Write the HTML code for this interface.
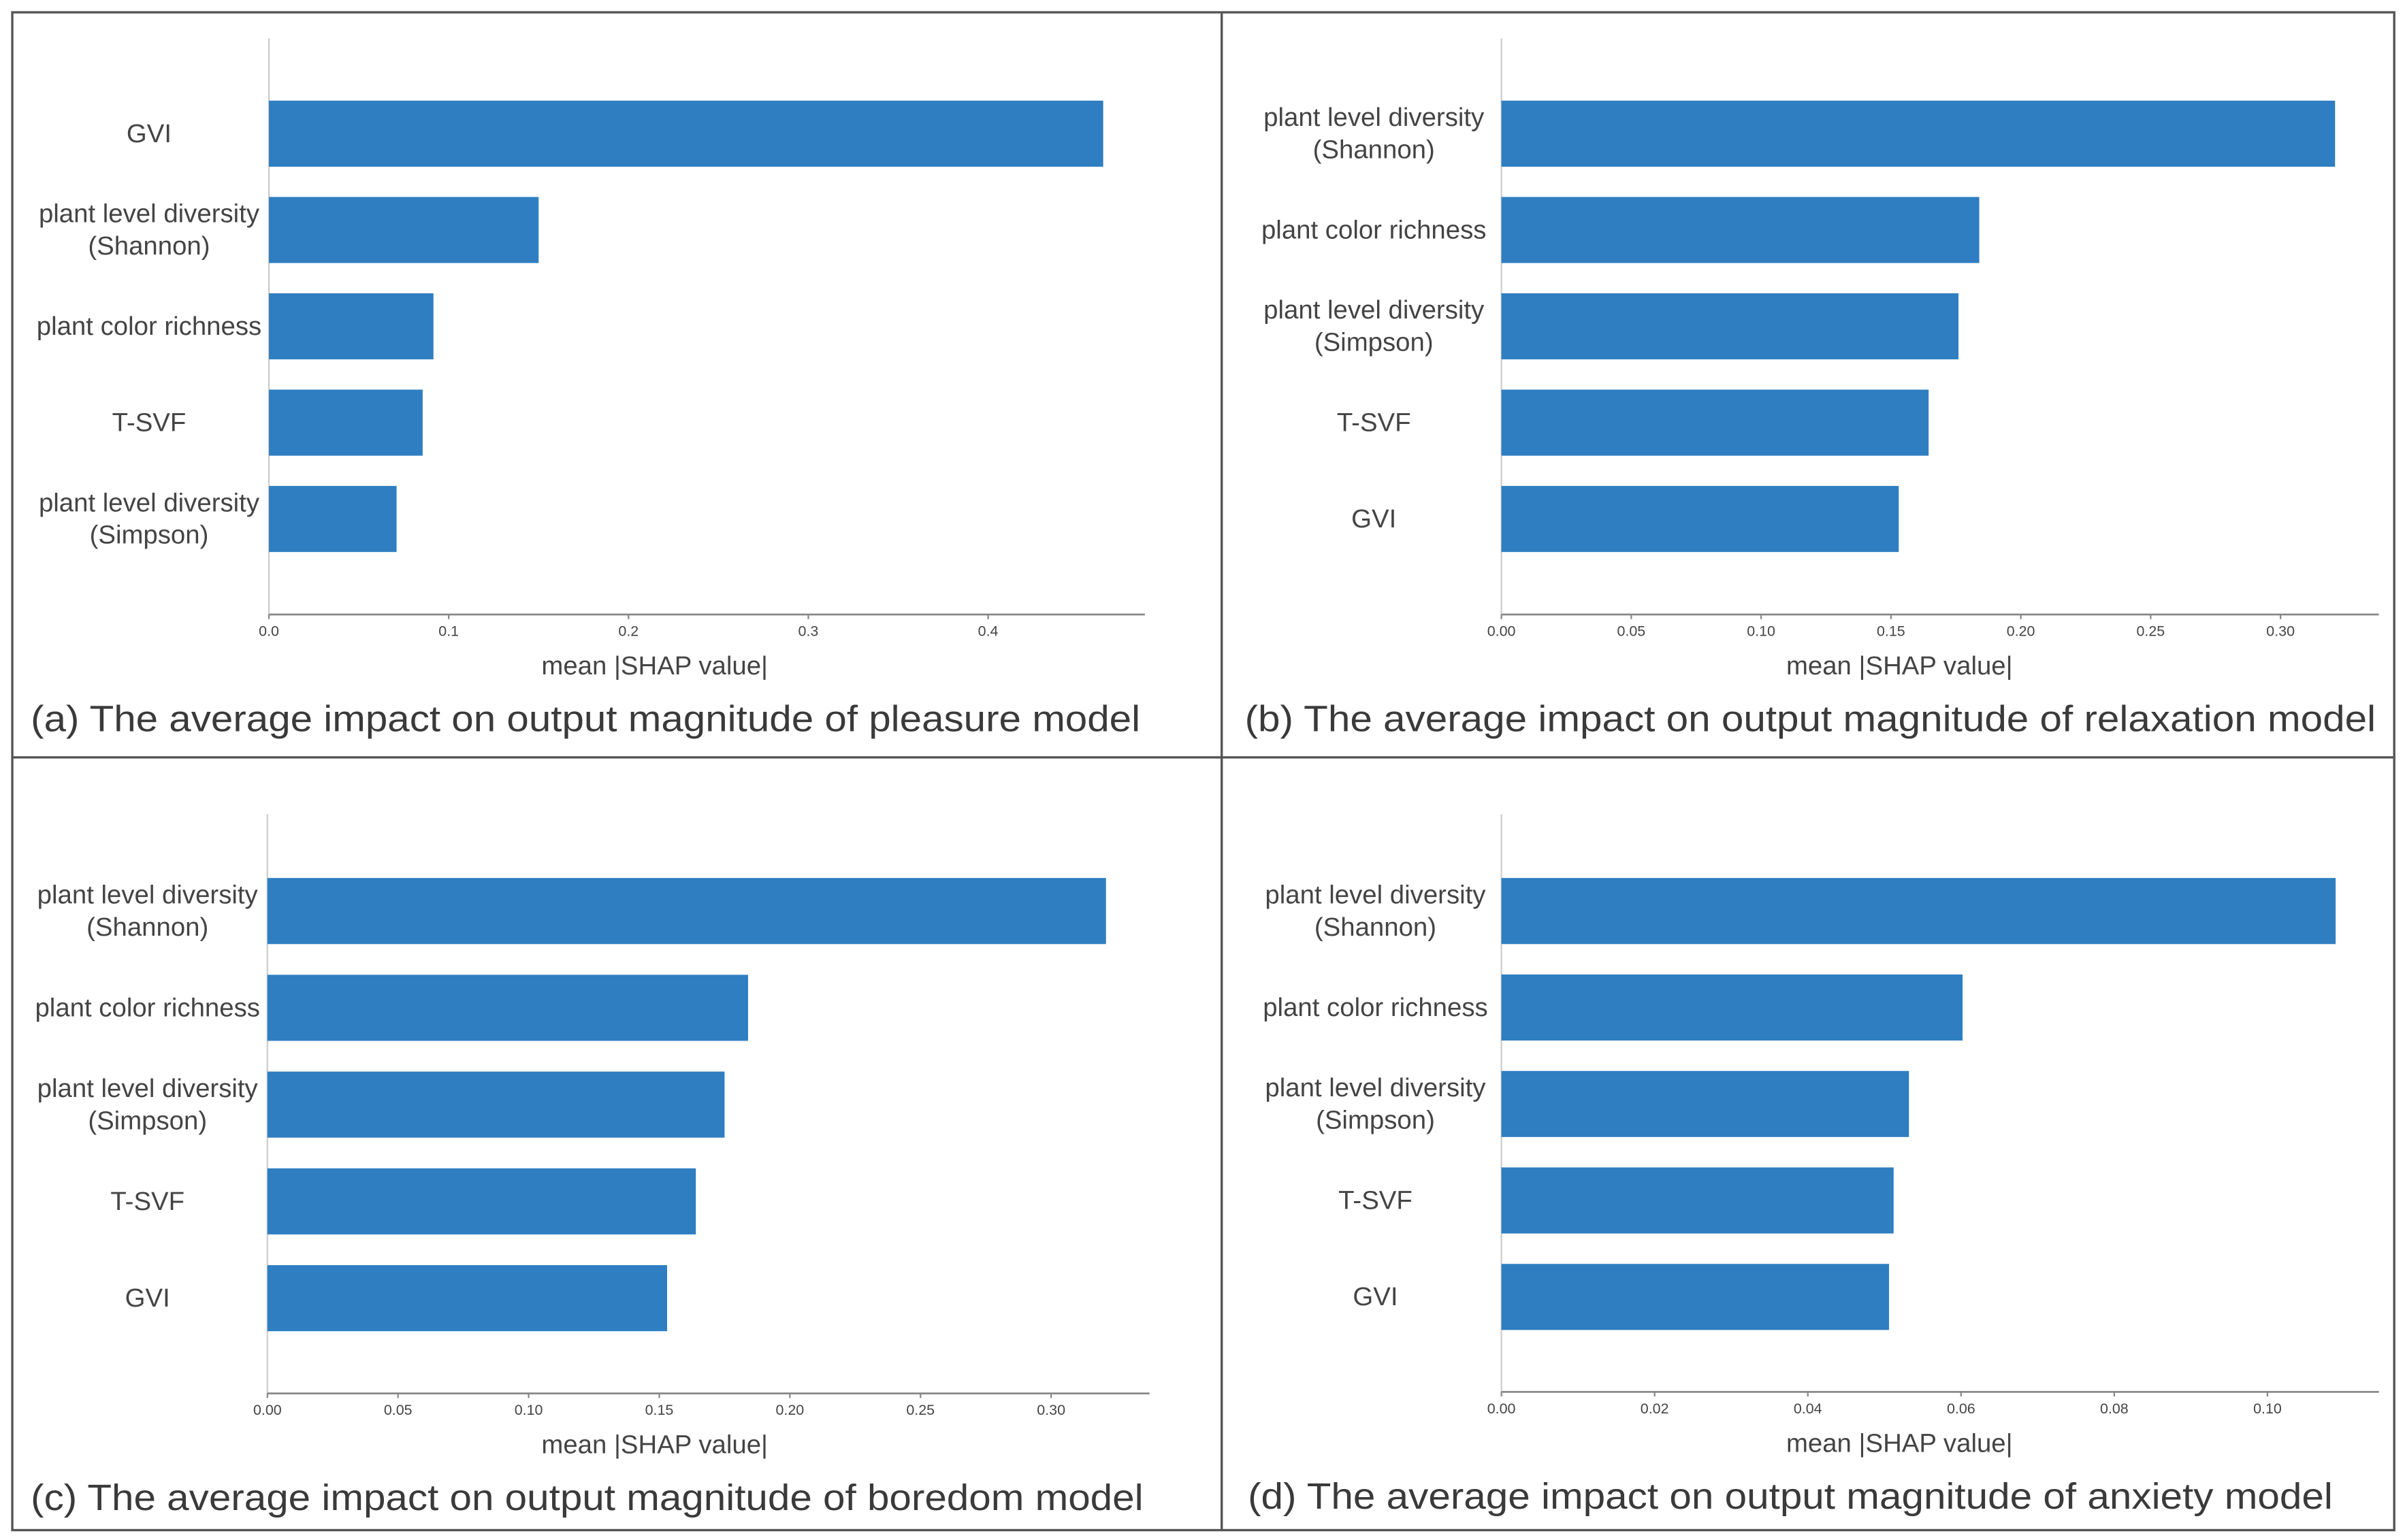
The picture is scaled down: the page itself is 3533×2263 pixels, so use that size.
<!DOCTYPE html>
<html><head><meta charset="utf-8"><style>
html,body{margin:0;padding:0;background:#fff}
svg{display:block}
text{font-family:"Liberation Sans",sans-serif;fill:#444}
</style></head><body>
<svg id="fig" width="3533" height="2263" viewBox="0 0 1565 1002.4" xmlns="http://www.w3.org/2000/svg">
<rect x="0" y="0" width="1565" height="1002.4" fill="#fff"/>
<rect x="8" y="8" width="1550" height="988" fill="none" stroke="#555" stroke-width="1.5"/>
<line x1="795" y1="8" x2="795" y2="996" stroke="#555" stroke-width="1.5"/>
<line x1="8" y1="493" x2="1558" y2="493" stroke="#555" stroke-width="1.5"/>
</svg>
<script>
const catsA = [["GVI"],["plant level diversity","(Shannon)"],["plant color richness"],["T-SVF"],["plant level diversity","(Simpson)"]];
const valsA = [0.464,0.150,0.0915,0.0855,0.071];
const ticksA = [0.0,0.1,0.2,0.3,0.4];
const tickLabelsA = ["0.0","0.1","0.2","0.3","0.4"];
const catsB = [["plant level diversity","(Shannon)"],["plant color richness"],["plant level diversity","(Simpson)"],["T-SVF"],["GVI"]];
const valsB = [0.321,0.184,0.176,0.1645,0.153];
const ticksB = [0,0.05,0.10,0.15,0.20,0.25,0.30];
const tickLabelsB = ["0.00","0.05","0.10","0.15","0.20","0.25","0.30"];
const catsC = [["plant level diversity","(Shannon)"],["plant color richness"],["plant level diversity","(Simpson)"],["T-SVF"],["GVI"]];
const valsC = [0.321,0.184,0.175,0.164,0.153];
const ticksC = [0,0.05,0.10,0.15,0.20,0.25,0.30];
const tickLabelsC = ["0.00","0.05","0.10","0.15","0.20","0.25","0.30"];
const catsD = [["plant level diversity","(Shannon)"],["plant color richness"],["plant level diversity","(Simpson)"],["T-SVF"],["GVI"]];
const valsD = [0.1089,0.0602,0.0532,0.0512,0.0506];
const ticksD = [0,0.02,0.04,0.06,0.08,0.10];
const tickLabelsD = ["0.00","0.02","0.04","0.06","0.08","0.10"];
const captions = ["(a) The average impact on output magnitude of pleasure model","(b) The average impact on output magnitude of relaxation model","(c) The average impact on output magnitude of boredom model","(d) The average impact on output magnitude of anxiety model"];

const NS="http://www.w3.org/2000/svg";
const svg=document.getElementById('fig');
function mk(tag,attrs,parent){const e=document.createElementNS(NS,tag);for(const k in attrs)e.setAttribute(k,attrs[k]);(parent||svg).appendChild(e);return e;}

function panel(id,cats,vals,ticks,tlabels,cap,cfg){
  const g=mk('g',{});
  
  
  const xs=v=>cfg.x0+v*cfg.scale;
  const ys=i=>cfg.yTop+i*cfg.step;
  const ax=mk('line',{x1:cfg.x0,y1:cfg.axTop,x2:cfg.x0,y2:cfg.axY,stroke:'#ccc','stroke-width':1},g);
  
  
  const bx=mk('line',{x1:cfg.x0,y1:cfg.axY,x2:cfg.xEnd,y2:cfg.axY,stroke:'#888','stroke-width':1.2},g);
  
  
  vals.forEach((v,i)=>{
    const r=mk('rect',{x:cfg.x0,y:ys(i)-21.5,width:xs(v)-cfg.x0,height:43,fill:'#2e7ec1'},g);
    
    
    const lines=cats[i];
    const t=mk('text',{x:cfg.lx,'text-anchor':'middle','font-size':17},g);
    
    
    lines.forEach((ln,j)=>{
      const ts=mk('tspan',{x:cfg.lx,y:ys(i)+5.5+(lines.length===2?(j===0?-10.5:10.5):0)},t);
      ts.textContent=ln;
    });
  });
  ticks.forEach((tv,i)=>{
    const tk=mk('line',{x1:xs(tv),y1:cfg.axY,x2:xs(tv),y2:cfg.axY+3,stroke:'#888','stroke-width':1},g);
    
    
    const t=mk('text',{x:xs(tv),y:cfg.axY+14,'text-anchor':'middle','font-size':9.5},g);
    
    
    t.textContent=tlabels[i];
  });
  const xl=mk('text',{x:cfg.xlx,y:cfg.axY+39,'text-anchor':'middle','font-size':17},g);
  
  
  xl.textContent='mean |SHAP value|';
  const c=mk('text',{x:cfg.cx,y:cfg.axY+76,'font-size':24,'textLength':cfg.cw,'lengthAdjust':'spacingAndGlyphs'},g);
  
  
  c.style.fill='#3a3a3a';
  c.textContent=cap;
}
panel('a',catsA,valsA,ticksA,tickLabelsA,captions[0],{x0:175,scale:1170,xEnd:745,yTop:87,step:62.7,axTop:25,axY:400,lx:97,xlx:426,cx:20,cw:722});
panel('b',catsB,valsB,ticksB,tickLabelsB,captions[1],{x0:977,scale:1690,xEnd:1548,yTop:87,step:62.7,axTop:25,axY:400,lx:894,xlx:1236,cx:810,cw:736});
panel('c',catsC,valsC,ticksC,tickLabelsC,captions[2],{x0:174,scale:1700,xEnd:748,yTop:593,step:63,axTop:530,axY:907,lx:96,xlx:426,cx:20,cw:724});
panel('d',catsD,valsD,ticksD,tickLabelsD,captions[3],{x0:977,scale:4985,xEnd:1548,yTop:593,step:62.8,axTop:530,axY:906,lx:895,xlx:1236,cx:812,cw:706});
</script>
</body></html>
